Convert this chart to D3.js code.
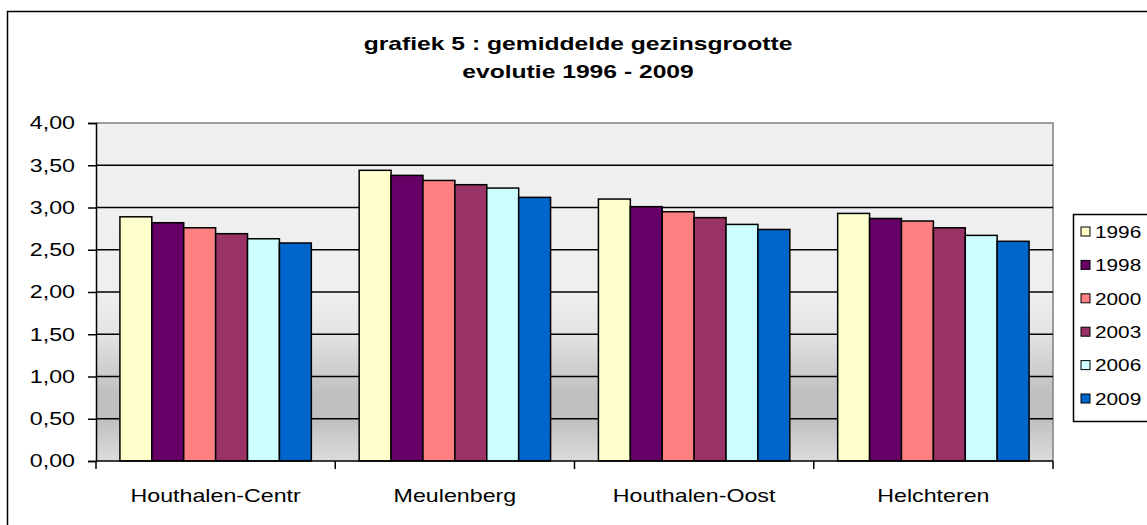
<!DOCTYPE html>
<html>
<head>
<meta charset="utf-8">
<script src="https://cdn.jsdelivr.net/npm/d3@7"></script>
<style>
  body { margin: 0; background: #fff; }
  text { font-family: "Liberation Sans", Arial, sans-serif; fill: #000; }
</style>
</head>
<body>
<div id="chart"></div>
<script>
// Data
const wijken = ["Houthalen-Centr", "Meulenberg", "Houthalen-Oost", "Helchteren"];
const jaren = ["1996", "1998", "2000", "2003", "2006", "2009"];
const waarden = {
    "1996": [2.89, 3.44, 3.10, 2.93],
    "1998": [2.82, 3.38, 3.01, 2.87],
    "2000": [2.76, 3.32, 2.95, 2.84],
    "2003": [2.69, 3.27, 2.88, 2.76],
    "2006": [2.63, 3.23, 2.80, 2.67],
    "2009": [2.58, 3.12, 2.74, 2.60]
};
const kleuren = ["#FFFFCC", "#660066", "#FF8080", "#993366", "#CCFFFF", "#0066CC"];
const yTicks = [0, 0.5, 1, 1.5, 2, 2.5, 3, 3.5, 4];

const width = 1147, height = 525;
const plot = { left: 96, top: 123, right: 1053, bottom: 461 };
const sx = 1.29; // the picture's text is stretched sideways

const svg = d3.select("#chart")
    .append("svg")
    .attr("width", width)
    .attr("height", height);

// Outer chart border
svg.append("rect")
    .attr("x", 7.5).attr("y", 11.5)
    .attr("width", 1150).attr("height", 520)
    .attr("fill", "#fff")
    .attr("stroke", "#000")
    .attr("stroke-width", 1.5);

// Plot background gradient
const grad = svg.append("defs").append("linearGradient")
    .attr("id", "bg").attr("x1", 0).attr("y1", 0).attr("x2", 0).attr("y2", 1);
[[0, "#F0F0F0"], [0.5, "#EFEFEF"], [0.62, "#E4E4E4"], [0.8, "#C0C0C0"], [0.88, "#C0C0C0"], [1, "#DCDCDC"]]
    .forEach(([o, c]) => grad.append("stop").attr("offset", o).attr("stop-color", c));

// Scales
const x0 = d3.scaleBand().domain(wijken).range([plot.left, plot.right]);
const x1 = d3.scaleBand().domain(jaren).range([0, x0.bandwidth()]).paddingInner(0).paddingOuter(0.75);
const y = d3.scaleLinear().domain([0, 4]).range([plot.bottom, plot.top]);

svg.append("rect")
    .attr("x", plot.left).attr("y", plot.top)
    .attr("width", plot.right - plot.left).attr("height", plot.bottom - plot.top)
    .attr("fill", "url(#bg)");

// Plot border (top and right in grey)
svg.append("path")
    .attr("d", `M${plot.left},${plot.top}H${plot.right}V${plot.bottom}`)
    .attr("fill", "none")
    .attr("stroke", "#808080")
    .attr("stroke-width", 1.5);

// Gridlines
svg.append("g")
    .selectAll("line")
    .data(yTicks.filter(d => d > 0 && d < 4))
    .join("line")
    .attr("x1", plot.left).attr("x2", plot.right)
    .attr("y1", d => y(d)).attr("y2", d => y(d))
    .attr("stroke", "#000")
    .attr("stroke-width", 1.5);

// Bars
const groups = svg.append("g")
    .selectAll("g")
    .data(wijken)
    .join("g")
    .attr("transform", d => `translate(${x0(d)},0)`);

groups.selectAll("rect")
    .data((w, i) => jaren.map((j, k) => ({ jaar: j, v: waarden[j][i], kleur: kleuren[k] })))
    .join("rect")
    .attr("x", d => x1(d.jaar))
    .attr("width", x1.bandwidth())
    .attr("y", d => y(d.v))
    .attr("height", d => y(0) - y(d.v))
    .attr("fill", d => d.kleur)
    .attr("stroke", "#000")
    .attr("stroke-width", 1.5);

// Y axis
const yAxis = d3.axisLeft(y)
    .tickValues(yTicks)
    .tickSize(8)
    .tickFormat(d => d3.format(".2f")(d).replace(".", ","));

const gy = svg.append("g")
    .attr("transform", `translate(${plot.left},0)`)
    .call(yAxis);
gy.select(".domain").attr("stroke", "#000").attr("stroke-width", 1.5);
gy.selectAll(".tick line").attr("stroke", "#000").attr("stroke-width", 1.5);
gy.selectAll(".tick text")
    .attr("x", 0)
    .attr("transform", `translate(-21,0) scale(${sx},1)`)
    .style("font-size", "18px");

// X axis
const gx = svg.append("g")
    .attr("transform", `translate(0,${plot.bottom})`);
gx.append("line")
    .attr("x1", plot.left).attr("x2", plot.right)
    .attr("stroke", "#000").attr("stroke-width", 1.5);
gx.selectAll(".sep")
    .data(wijken.map(d => x0(d)).concat([plot.right]))
    .join("line")
    .attr("class", "sep")
    .attr("x1", d => d).attr("x2", d => d)
    .attr("y1", 0).attr("y2", 8)
    .attr("stroke", "#000").attr("stroke-width", 1.5);
gx.selectAll(".lbl")
    .data(wijken)
    .join("text")
    .attr("class", "lbl")
    .attr("text-anchor", "middle")
    .attr("transform", d => `translate(${x0(d) + x0.bandwidth() / 2},41) scale(${sx},1)`)
    .style("font-size", "18px")
    .text(d => d);

// Title
const title = svg.append("text")
    .attr("text-anchor", "middle")
    .attr("transform", `translate(578,0) scale(1.37,1)`)
    .style("font-size", "18px")
    .style("font-weight", "bold");
title.append("tspan").attr("x", 0).attr("y", 50).text("grafiek 5 : gemiddelde gezinsgrootte");
title.append("tspan").attr("x", 0).attr("y", 78).text("evolutie 1996 - 2009");

// Legend
const legend = svg.append("g");
legend.append("rect")
    .attr("x", 1073.5).attr("y", 214.5)
    .attr("width", 90).attr("height", 207)
    .attr("fill", "#fff")
    .attr("stroke", "#000")
    .attr("stroke-width", 1.5);

const items = legend.selectAll(".item")
    .data(jaren)
    .join("g")
    .attr("class", "item")
    .attr("transform", (d, i) => `translate(1081,${232 + i * 33.4})`);
items.append("rect")
    .attr("x", 0).attr("y", -5)
    .attr("width", 9).attr("height", 9)
    .attr("fill", (d, i) => kleuren[i])
    .attr("stroke", "#000")
    .attr("stroke-width", 1);
items.append("text")
    .attr("transform", `translate(14,0) scale(1.3,1)`)
    .attr("dy", "0.36em")
    .style("font-size", "16px")
    .text(d => d);
</script>
</body>
</html>
